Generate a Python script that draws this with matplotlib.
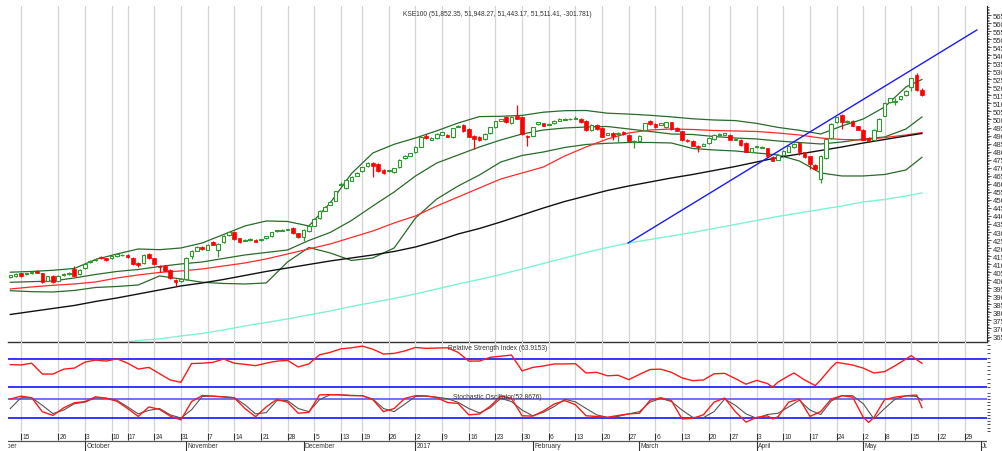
import matplotlib
matplotlib.use("Agg")
import matplotlib.pyplot as plt
import numpy as np
import pandas as pd
from matplotlib.ticker import MultipleLocator, FixedLocator, FuncFormatter

plt.rcParams['font.family'] = ['Liberation Sans', 'DejaVu Sans']

# ---------------- data ----------------
holidays = ["2016-09-12", "2016-09-13", "2016-09-14", "2016-10-11", "2016-10-12",
            "2016-12-12", "2017-03-23", "2017-05-01"]
first_day = "2016-09-08"
month_names = ["January", "February", "March", "April", "May", "June", "July",
               "August", "September", "October", "November", "December"]

opens = [40205, 40245, 40430, 40380, 40430, 40580, 40430, 39980, 40290, 39980,
         40350, 40400, 40700, 40390, 40740, 41117, 41240, 41450, 41360, 41365,
         41490, 41550, 41570, 41390, 41070, 41070, 41640, 41365, 40910, 40870,
         40640, 40020, 39980, 40080, 41530, 41840, 42090, 41900, 42400, 41905,
         42360, 42815, 43020, 42610, 42465, 42490, 42530, 42490, 42610, 42735,
         43040, 43090, 43140, 43250, 42920, 42670, 43050, 43400, 43875, 44330,
         44700, 44950, 45900, 45720, 46200, 46500, 46780, 47090, 47275, 47230,
         46860, 46775, 46715, 47025, 47605, 47750, 47960, 48310, 48995, 48745,
         48830, 49055, 49055, 48890, 49555, 49680, 49410, 48995, 48900, 48788,
         49140, 49513, 49930, 50177, 49762, 50240, 50177, 48995, 48995, 49720,
         49762, 49680, 49762, 49928, 49990, 50010, 50050, 50030, 49928, 49347,
         49680, 49470, 49057, 49160, 49098, 49243, 49057, 48580, 48684, 49347,
         49886, 49720, 49680, 49513, 49824, 49470, 49264, 48725, 48684, 48373,
         48373, 48550, 48788, 49057, 49057, 49036, 48746, 48726, 48539, 48000,
         48270, 48250, 48207, 47650, 47505, 47793, 48000, 48270, 48539, 47958,
         47710, 47170, 46300, 47586, 48830, 49824, 50280, 49824, 49928, 49575,
         49368, 48850, 48746, 49306, 50239, 51068, 51110, 51276, 51524, 52001,
         52768, 51852.35]
highs = [40350, 40450, 40480, 40470, 40570, 40640, 40460, 40290, 40330, 40330,
         40480, 40500, 40910, 40700, 41060, 41260, 41380, 41520, 41400, 41530,
         41660, 41660, 41640, 41420, 41130, 41650, 41700, 41400, 40960, 40920,
         40680, 40060, 40120, 41420, 41860, 42100, 42150, 42230, 42470, 42300,
         42820, 43020, 43060, 42650, 42560, 42610, 42570, 42590, 42780, 43030,
         43150, 43190, 43210, 43300, 42960, 43190, 43450, 43860, 44340, 44630,
         44900, 45580, 46100, 46290, 46490, 46740, 47070, 47340, 47350, 47280,
         46900, 46880, 47010, 47530, 47800, 47940, 48360, 48980, 49080, 48880,
         49150, 49250, 49100, 49500, 49660, 49730, 49450, 49040, 48950, 49150,
         49560, 49930, 50060, 50230, 50220, 50923, 50220, 49040, 49560, 49870,
         49810, 49790, 49970, 50080, 50100, 50100, 50200, 50080, 49970, 49730,
         49730, 49510, 49190, 49210, 49230, 49290, 49100, 48730, 49040, 49810,
         49990, 49760, 49810, 49870, 49870, 49510, 49300, 48770, 48730, 48410,
         48520, 48900, 49100, 49140, 49190, 49080, 48840, 48770, 48580, 48250,
         48380, 48360, 48250, 47700, 47840, 48110, 48380, 48520, 48580, 48000,
         47750, 47210, 47760, 48830, 49770, 50180, 50330, 49980, 49970, 49620,
         49410, 48890, 49390, 50080, 51070, 51360, 51350, 51490, 51840, 52610,
         52900, 51948.27]
lows = [40150, 40200, 40230, 40330, 40400, 40420, 39830, 39930, 39830, 39940,
        40290, 40350, 40250, 40350, 40700, 41080, 41200, 41320, 41220, 41330,
        41450, 41500, 41380, 40950, 40800, 41030, 41340, 40960, 40495, 40550,
        40080, 39660, 39900, 40030, 41330, 41800, 41900, 41860, 42170, 41440,
        42320, 42770, 42520, 42320, 42420, 42450, 42360, 42450, 42570, 42700,
        43000, 43050, 43100, 42880, 42620, 42420, 43010, 43360, 43830, 44290,
        44660, 44900, 45850, 45680, 46160, 46460, 46740, 47050, 46400, 46730,
        46640, 46730, 46670, 46980, 47560, 47710, 47920, 48270, 48780, 48700,
        48790, 49010, 48890, 48850, 49510, 49220, 48880, 48170, 48640, 48740,
        49100, 49470, 49890, 49780, 49720, 50000, 49050, 48373, 48950, 49680,
        49570, 49630, 49720, 49890, 49950, 49970, 50010, 49780, 49300, 49300,
        49360, 48890, 49010, 48700, 48600, 49050, 48600, 48230, 48640, 49300,
        49680, 49470, 49640, 49470, 49370, 49260, 48680, 48600, 48330, 47950,
        48330, 48500, 48740, 49010, 49010, 48700, 48700, 48370, 47950, 47950,
        48220, 48200, 47660, 47390, 47460, 47750, 47960, 48230, 47800, 47600,
        46950, 46870, 46050, 47540, 48790, 49780, 49430, 49780, 49570, 49320,
        48700, 48600, 48700, 49260, 50190, 51020, 50900, 51230, 51480, 51800,
        51770, 51443.17]
closes = [40330, 40410, 40265, 40420, 40530, 40460, 39915, 40245, 39870, 40290,
          40390, 40430, 40290, 40660, 41010, 41220, 41324, 41360, 41260, 41490,
          41615, 41600, 41430, 41010, 40950, 41570, 41390, 41010, 40810, 40600,
          40120, 39870, 40080, 41365, 41800, 42050, 41950, 42190, 42215, 42255,
          42775, 42980, 42568, 42360, 42510, 42570, 42400, 42550, 42735, 42985,
          43110, 43150, 43170, 42920, 42670, 43150, 43400, 43810, 44290, 44580,
          44850, 45530, 45990, 46240, 46445, 46690, 47025, 47295, 47130, 46775,
          46690, 46840, 46965, 47480, 47750, 47890, 48310, 48930, 48830, 48830,
          49100, 49200, 48935, 49450, 49615, 49265, 48930, 48790, 48700, 49098,
          49513, 49886, 50010, 49824, 50177, 50030, 49098, 48891, 49513, 49824,
          49617, 49740, 49928, 50030, 50050, 50050, 50090, 49824, 49347, 49680,
          49410, 48932, 49140, 48995, 49180, 49098, 48643, 48684, 48995, 49762,
          49720, 49513, 49762, 49824, 49410, 49306, 48725, 48643, 48373, 48310,
          48477, 48850, 49057, 49098, 49140, 48746, 48788, 48415, 48000, 48207,
          48330, 48310, 47710, 47440, 47793, 48062, 48331, 48477, 48000, 47648,
          47233, 46922, 47710, 48788, 49720, 50135, 49824, 49928, 49617, 49368,
          48746, 48684, 49347, 50032, 51027, 51317, 51172, 51441, 51794, 52560,
          51813.19, 51511.41]

# indicator lines, sampled every 4 trading days (index from first candle)
line_idx = [0, 4, 8, 12, 16, 20, 24, 28, 32, 36, 40, 44, 48, 52, 56, 60, 64, 68,
            72, 76, 80, 84, 88, 92, 96, 100, 104, 108, 112, 116, 120, 124, 128,
            132, 136, 140, 144, 148, 152, 156, 160, 164, 168, 171]
bb_upper = [40501, 40546, 40620, 40733, 41291, 41634, 41945, 41901, 42007, 42318,
            42847, 43376, 43687, 43656, 43376, 44807, 46641, 47916, 48458, 48849,
            49297, 49782, 50180, 50199, 50255, 50454, 50547, 50560, 50392, 50336,
            50261, 50162, 50044, 49969, 49932, 49757, 49508, 49328, 49098, 49596,
            50031, 50778, 52022, 52488]
bb_mid = [39874, 39911, 39955, 40141, 40359, 40546, 40670, 40857, 41012, 41137,
          41355, 41572, 41728, 41883, 42474, 42972, 43718, 44620, 45491, 46486,
          47294, 47792, 48290, 48725, 49098, 49347, 49471, 49534, 49565, 49409,
          49254, 49098, 49067, 48943, 48849, 48787, 48663, 48569, 48476, 48600,
          48787, 48911, 49409, 50155]
bb_lower = [39350, 39289, 39270, 39364, 39550, 39612, 39706, 40266, 40079, 39874,
            39799, 39768, 39830, 41137, 42039, 41697, 41230, 41385, 42007, 43873,
            45055, 45864, 46548, 47357, 47761, 47979, 48259, 48445, 48520, 48569,
            48569, 48538, 48196, 48103, 48041, 47917, 47793, 47419, 46673, 46486,
            46486, 46579, 46859, 47649]
ma_red = [39457, 39582, 39688, 39768, 39893, 40141, 40328, 40484, 40577, 40701,
          40888, 41074, 41323, 41634, 41945, 42256, 42661, 43065, 43562, 43998,
          44620, 45180, 45740, 46299, 46672, 47045, 47730, 48290, 48787, 49160,
          49347, 49409, 49378, 49316, 49285, 49254, 49160, 49036, 48849, 48756,
          48725, 48880, 49036, 49191]
ma_black = [37871, 38058, 38245, 38431, 38680, 38897, 39146, 39395, 39644, 39830,
            40048, 40297, 40546, 40763, 40981, 41199, 41386, 41572, 41790, 42070,
            42443, 42878, 43220, 43625, 44060, 44495, 44900, 45242, 45584, 45864,
            46113, 46361, 46579, 46828, 47077, 47357, 47637, 47854, 48072, 48290,
            48538, 48756, 48974, 49129]
cyan_idx = [22, 24, 28, 32, 36, 40, 44, 48, 52, 56, 60, 64, 68, 72, 76, 80, 84,
            88, 92, 96, 100, 104, 108, 112, 116, 120, 124, 128, 132, 136, 140,
            144, 148, 152, 156, 160, 164, 168, 171]
ma_cyan = [36161, 36253, 36347, 36534, 36689, 36907, 37156, 37373, 37591, 37840,
           38089, 38369, 38618, 38867, 39147, 39457, 39768, 40048, 40359, 40701,
           41043, 41385, 41728, 42039, 42318, 42536, 42754, 42972, 43220, 43469,
           43718, 43967, 44184, 44402, 44620, 44869, 45024, 45242, 45429]
trend_idx = [115.9, 181.3]
trend_vals = [42318, 55567]

rsi_points = [(0, 62), (2, 61.5), (4, 64), (6, 48.5), (8, 48.5), (10, 55.5), (12, 57),
              (14, 65.5), (16, 68.5), (18, 67), (20, 70.3), (22, 64), (24, 55.7),
              (26, 58), (28, 49), (30, 40), (32, 36.7), (34, 63.5), (36, 64),
              (38, 65.2), (40, 70), (42, 64), (44, 62.4), (46, 60.5), (48, 64),
              (50, 67), (52, 68), (54, 58.6), (56, 63), (58, 76), (60, 79.5),
              (62, 84.5), (64, 86), (66, 88.5), (68, 84), (70, 77.1), (72, 78),
              (74, 81.5), (76, 86.5), (78, 85.2), (80, 85.7), (82, 86), (84, 79.5),
              (86, 67), (88, 67.1), (90, 72.4), (92, 74), (94, 75.7), (96, 53),
              (98, 58), (100, 60), (102, 62.9), (104, 62.9), (106, 63.3), (108, 50),
              (110, 51), (112, 46), (114, 46.8), (116, 40.5), (118, 48), (120, 55),
              (122, 55.5), (124, 51), (126, 43), (128, 39), (130, 40), (132, 48.8),
              (134, 49.5), (136, 42), (138, 34), (140, 39.5), (142, 35), (143, 30),
              (144, 37), (146, 46), (147, 50), (149, 40), (151, 32), (152, 40),
              (154, 58), (155, 65), (156, 64), (158, 61.4), (160, 57), (162, 50),
              (164, 52), (166, 60.5), (168, 70), (169, 74.8), (170, 69),
              (171, 63.9153)]
stoch_k_points = [(0, 80), (2, 89), (4, 84), (6, 40), (8, 28), (10, 52), (12, 68),
                  (14, 72), (16, 87), (18, 82), (20, 73), (22, 50), (24, 25), (26, 55),
                  (28, 47), (30, 26), (32, 14), (34, 72), (36, 91), (38, 89), (40, 86),
                  (42, 84), (44, 50), (46, 24), (48, 55), (50, 79), (52, 70), (54, 35),
                  (56, 38), (58, 93), (60, 93.7), (62, 93), (64, 90.5), (66, 90.5),
                  (68, 78), (70, 40), (72, 50), (74, 82), (76, 90.5), (78, 90), (80, 84),
                  (82, 69), (84, 66), (86, 30), (88, 32.6), (90, 57), (92, 89), (94, 82),
                  (96, 27), (98, 26), (100, 42), (102, 64), (104, 75), (106, 62),
                  (108, 27), (110, 25), (112, 22), (114, 28), (116, 33), (118, 35),
                  (120, 76), (122, 84), (124, 75), (126, 17), (128, 19), (130, 30),
                  (132, 70), (134, 83), (136, 40), (138, 7), (140, 22), (142, 27),
                  (143, 17), (144, 24), (146, 70), (148, 80), (150, 25), (152, 40),
                  (154, 80), (156, 90.5), (158, 86), (160, 22), (161, 6), (162, 22),
                  (164, 78), (166, 86), (168, 90), (170, 92.6), (171, 52.8676)]
stoch_d_points = [(0, 50), (2, 84), (4, 84), (6, 60), (8, 34), (10, 45), (12, 65),
                  (14, 70), (16, 84), (18, 83), (20, 76), (22, 55), (24, 33), (26, 44),
                  (28, 50), (30, 30), (32, 20), (34, 46), (36, 88), (38, 89), (40, 87.5),
                  (42, 84), (44, 62), (46, 33), (48, 37), (50, 75), (52, 75), (54, 50),
                  (56, 40), (58, 78), (60, 93.5), (62, 93), (64, 91.5), (66, 90.5),
                  (68, 80), (70, 50), (72, 40), (74, 64), (76, 88), (78, 89), (80, 86),
                  (82, 81), (84, 69.5), (86, 50), (88, 36), (90, 52), (92, 82), (94, 72),
                  (96, 45), (98, 27), (100, 38), (102, 56), (104, 79), (106, 71),
                  (108, 50), (110, 30), (112, 22), (114, 25), (116, 33), (118, 40),
                  (120, 70), (122, 82), (124, 72), (126, 45), (128, 22), (130, 21),
                  (132, 40), (134, 80), (136, 60), (138, 33), (140, 19), (142, 31),
                  (144, 35), (146, 55), (148, 76), (150, 45), (152, 31), (154, 74),
                  (156, 90.5), (158, 90.5), (160, 65), (162, 17), (164, 50), (166, 80),
                  (168, 90), (170, 88), (171, 75)]

title_text = "KSE100 (51,852.35, 51,948.27, 51,443.17, 51,511.41, -301.781)"
rsi_label = "Relative Strength Index (63.9153)"
stoch_label = "Stochastic Oscillator(52.8676)"
price_tick_values = list(range(36500, 57000, 500))

# ---------------- calendar ----------------
bd = pd.bdate_range("2016-08-29", "2017-06-30")
tdays = bd[~bd.isin(pd.to_datetime(holidays))]
pos = np.arange(len(tdays)) - int(np.where(tdays == pd.Timestamp(first_day))[0][0])
wk = tdays.isocalendar().week.values
week_start = np.r_[True, wk[1:] != wk[:-1]]
mon = tdays.month.values
month_start = np.r_[True, mon[1:] != mon[:-1]]

# weekly ticks, dropping a tick that comes too close after the previous one
week_pos, week_lab = [], []
for p, d in zip(pos[week_start], tdays[week_start]):
    if week_pos and p - week_pos[-1] < 3:
        continue
    week_pos.append(p)
    week_lab.append(str(d.day))
week_pos = np.array(week_pos)
month_pos = pos[month_start]
month_lab = [("%d" % d.year) if d.month == 1 else month_names[d.month - 1]
             for d in tdays[month_start]]

# ---------------- figure ----------------
W, H = 1002, 452
fig = plt.figure(figsize=(W / 100, H / 100), dpi=100)
L, R = 8, 987


def axes_px(top, bottom):
    return fig.add_axes([L / W, 1 - bottom / H, (R - L) / W, (bottom - top) / H])


ax = axes_px(7, 343)
ax_r = axes_px(343, 391)
ax_s = axes_px(391, 433)
ax_d = axes_px(433, 452)

k_per_px = 1 / 5.331
x0 = (L - 10.33) * k_per_px
x1 = (R - 10.33) * k_per_px
for a in (ax, ax_r, ax_s, ax_d):
    a.set_xlim(x0, x1)
    a.set_facecolor('none')

GRID = '#d4d4d4'
for a in (ax, ax_r, ax_s):
    for p in week_pos:
        if x0 < p < x1:
            a.axvline(p, color=GRID, lw=0.9, zorder=0)

# ---- main price panel ----
ax.set_ylim(36158, 57060)
x = np.arange(len(closes))
o = np.array(opens); c = np.array(closes); h = np.array(highs); l = np.array(lows)
up = c >= o
GREEN = '#2c9a2c'
RED = '#ff0000'
ax.vlines(x[up], l[up], h[up], color=GREEN, lw=0.9, zorder=3)
ax.vlines(x[~up], l[~up], h[~up], color=RED, lw=0.9, zorder=3)
bw = 0.68
ax.bar(x[up], (c - o)[up], bottom=o[up], width=bw, facecolor='white',
       edgecolor=GREEN, lw=0.8, zorder=4)
ax.bar(x[~up], (o - c)[~up], bottom=c[~up], width=bw, facecolor=RED,
       edgecolor=RED, lw=0.5, zorder=4)

BAND = '#2a6a2a'
ax.plot(line_idx, bb_upper, color=BAND, lw=0.9, zorder=2)
ax.plot(line_idx, bb_mid, color=BAND, lw=0.9, zorder=2)
ax.plot(line_idx, bb_lower, color=BAND, lw=0.9, zorder=2)
ax.plot(line_idx, ma_red, color='#ff2a2a', lw=0.9, zorder=2)
ax.plot(line_idx, ma_black, color='#111111', lw=1.0, zorder=2)
ax.plot(cyan_idx, ma_cyan, color='#7ef2d2', lw=1.0, zorder=2)
ax.plot(trend_idx, trend_vals, color='#1a1aff', lw=1.0, zorder=2)

for s in ('top', 'left'):
    ax.spines[s].set_visible(False)
ax.spines['right'].set_color('#222222')
ax.spines['right'].set_linewidth(0.8)
ax.spines['bottom'].set_color('#333333')
ax.spines['bottom'].set_linewidth(1.0)
ax.yaxis.tick_right()
ax.yaxis.set_major_locator(FixedLocator(price_tick_values))
ax.yaxis.set_minor_locator(MultipleLocator(100))
ax.yaxis.set_major_formatter(FuncFormatter(lambda v, _: "%d" % v))
ax.tick_params(axis='y', which='major', length=3, width=0.6, pad=1,
               labelsize=5.6, colors='#333333')
ax.tick_params(axis='y', which='minor', length=1.6, width=0.5, colors='#333333')
ax.set_xticks([])

fig.text((L + R) / 2 / W, 1 - 14 / H, title_text, ha='center', va='center',
         fontsize=4.8, color='#333333')

# ---- RSI panel ----
ri = [p[0] for p in rsi_points]; rv = [p[1] for p in rsi_points]
ax_r.set_ylim(70 - (391 - 360) / 0.7, 70 + (360 - 343) / 0.7)
ax_r.axhline(70, color='#0000ff', lw=1.1, zorder=2)
ax_r.axhline(30, color='#0000ff', lw=1.1, zorder=2)
ax_r.plot(ri, rv, color='#ff1a1a', lw=1.0, zorder=3)
ax_r.text(0.5, 1 - 6 / 48, rsi_label, transform=ax_r.transAxes, ha='center',
          va='center', fontsize=4.8, color='#333333', zorder=5)

# ---- Stochastic panel ----
ki = [p[0] for p in stoch_k_points]; kv = [p[1] for p in stoch_k_points]
di = [p[0] for p in stoch_d_points]; dv = [p[1] for p in stoch_d_points]
ax_s.set_ylim(80 - (433 - 400) * 60 / 19, 80 + (400 - 391) * 60 / 19)
ax_s.axhline(80, color='#4a4aff', lw=1.1, zorder=2)
ax_s.axhline(20, color='#0000ff', lw=1.1, zorder=2)
ax_s.plot(di, dv, color='#555555', lw=0.8, zorder=3)
ax_s.plot(ki, kv, color='#ff1a1a', lw=1.0, zorder=4)
ax_s.text(0.5, 1 - 7 / 42, stoch_label, transform=ax_s.transAxes, ha='center',
          va='center', fontsize=4.8, color='#333333', zorder=5)

for a, step in ((ax_r, 6), (ax_s, 10)):
    for s in ('top', 'left', 'bottom', 'right'):
        a.spines[s].set_visible(False)
    a.set_xticks([])
    a.yaxis.tick_right()
    a.yaxis.set_major_locator(MultipleLocator(step))
    a.tick_params(axis='y', length=2, width=0.6, labelright=False, colors='#333333')

# ---- date axis ----
ax_d.set_ylim(0, 1)
ax_d.axis('off')
yd_top, yd_mid = 1 - 1 / 19, 1 - 9 / 19
vis_w = (week_pos > x0) & (week_pos < x1)
ax_d.vlines(week_pos[vis_w], 1 - 8 / 19, yd_top, color='#333333', lw=0.8)
for p, t in zip(week_pos, week_lab):
    if x0 < p < x1:
        ax_d.text(p + 0.25, 1 - 4.5 / 19, t, fontsize=4.8, color='#333333',
                  ha='left', va='center', clip_on=True)
ax_d.axhline(yd_mid, color='#555555', lw=0.9)
vis_m = (month_pos > x0) & (month_pos < x1)
ax_d.vlines(month_pos[vis_m], 0, yd_mid, color='#333333', lw=0.8)
for p, t in zip(month_pos, month_lab):
    if x0 - 7 < p < x1:
        ax_d.text(p + 0.25, 1 - 14 / 19, t, fontsize=4.8, color='#333333',
                  ha='left', va='center', clip_on=True)

fig.savefig("out.png", dpi=100)
